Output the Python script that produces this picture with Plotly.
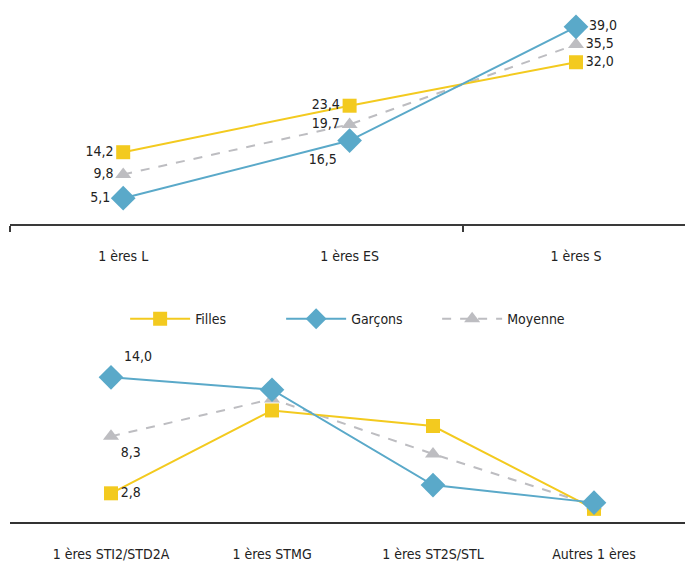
import plotly.graph_objects as go

# ---- data ----
top_categories = ["1 ères L", "1 ères ES", "1 ères S"]
top_filles = [14.2, 23.4, 32.0]
top_garcons = [5.1, 16.5, 39.0]
top_moyenne = [9.8, 19.7, 35.5]

bot_categories = ["1 ères STI2/STD2A", "1 ères STMG", "1 ères ST2S/STL", "Autres 1 ères"]
bot_filles = [2.8, 10.8, 9.3, 1.3]
bot_garcons = [14.0, 12.8, 3.6, 1.9]
bot_moyenne = [8.3, 11.9, 6.6, 1.6]
bot_labelled = [True, False, False, False]

# ---- styles ----
C_F = "#F3CA1F"
C_G = "#5AA9C9"
C_M = "#BDBDC1"
TXT = "#222222"
FONT = "Liberation Sans Narrow, Arial Narrow, DejaVu Sans Condensed, sans-serif"


def fmt(v):
    return f"{v:.1f}".replace(".", ",")


def labels(vals, mask=None):
    if mask is None:
        return [fmt(v) for v in vals]
    return [fmt(v) if m else "" for v, m in zip(vals, mask)]


styles = {
    "Filles": dict(color=C_F, symbol="square", size=14, dash="solid"),
    "Garçons": dict(color=C_G, symbol="diamond", size=19, dash="solid"),
    "Moyenne": dict(color=C_M, symbol="triangle-up", size=14, dash="dash"),
}

top_pos = {
    "Filles": ["middle left", "middle left", "middle right"],
    "Garçons": ["middle left", "bottom left", "middle right"],
    "Moyenne": ["middle left", "middle left", "middle right"],
}
bot_pos = {
    "Filles": ["middle right"] * 4,
    "Garçons": ["top right"] * 4,
    "Moyenne": ["bottom right"] * 4,
}

top_vals = {"Filles": top_filles, "Garçons": top_garcons, "Moyenne": top_moyenne}
bot_vals = {"Filles": bot_filles, "Garçons": bot_garcons, "Moyenne": bot_moyenne}
rank = {"Filles": 1, "Garçons": 2, "Moyenne": 3}

fig = go.Figure()

for name in ["Moyenne", "Filles", "Garçons"]:
    s = styles[name]
    fig.add_trace(go.Scatter(
        x=list(range(len(top_categories))), y=top_vals[name],
        mode="lines+markers+text", name=name, legendgroup=name,
        legendrank=rank[name],
        line=dict(color=s["color"], width=2, dash=s["dash"]),
        marker=dict(symbol=s["symbol"], size=s["size"], color=s["color"]),
        text=labels(top_vals[name]), textposition=top_pos[name],
        textfont=dict(family=FONT, size=14, color=TXT),
        cliponaxis=False, xaxis="x", yaxis="y",
    ))
    fig.add_trace(go.Scatter(
        x=list(range(len(bot_categories))), y=bot_vals[name],
        mode="lines+markers+text", name=name, legendgroup=name, showlegend=False,
        line=dict(color=s["color"], width=2, dash=s["dash"]),
        marker=dict(symbol=s["symbol"], size=s["size"], color=s["color"]),
        text=labels(bot_vals[name], bot_labelled), textposition=bot_pos[name],
        textfont=dict(family=FONT, size=14, color=TXT),
        cliponaxis=False, xaxis="x2", yaxis="y2",
    ))

H = 562
fig.update_layout(
    width=685, height=562,
    margin=dict(l=10, r=0, t=0, b=0),
    paper_bgcolor="white", plot_bgcolor="white",
    font=dict(family=FONT, size=14, color=TXT),
    showlegend=True,
    legend=dict(
        orientation="h", x=0.175 - 3 / 675, xanchor="left", y=1 - 322 / H, yanchor="middle",
        font=dict(family=FONT, size=14, color=TXT),
        itemwidth=60, entrywidth=81, entrywidthmode="pixels",
        traceorder="normal", bgcolor="rgba(0,0,0,0)",
    ),
    xaxis=dict(
        domain=[0, 1], range=[-0.5, -0.5 + 675 / 226.4],
        tickmode="array", tickvals=list(range(len(top_categories))),
        ticktext=top_categories, ticks="", ticklabelstandoff=18,
        showline=True, linecolor="#3a3a3a", linewidth=1.6,
        showgrid=False, zeroline=False,
        minor=dict(tickmode="array", tickvals=[-0.5, 1.5], ticks="outside",
                   ticklen=6, tickcolor="#3a3a3a", tickwidth=1.6),
        anchor="y",
    ),
    yaxis=dict(
        domain=[1 - 226 / H, 1], range=[0, 226 / 5.10],
        visible=False, showgrid=False, zeroline=False, anchor="x",
    ),
    xaxis2=dict(
        domain=[0, 1], range=[-(111 - 10) / 161, -(111 - 10) / 161 + 675 / 161],
        tickmode="array", tickvals=list(range(len(bot_categories))),
        ticktext=bot_categories, ticks="", ticklabelstandoff=18,
        showline=True, linecolor="#333333", linewidth=2.2,
        showgrid=False, zeroline=False, anchor="y2",
    ),
    yaxis2=dict(
        domain=[1 - 527 / H, 1 - 354 / H], range=[0, (527 - 354) / 10.45],
        visible=False, showgrid=False, zeroline=False, anchor="x2",
    ),
)

fig.write_html("out.html")
